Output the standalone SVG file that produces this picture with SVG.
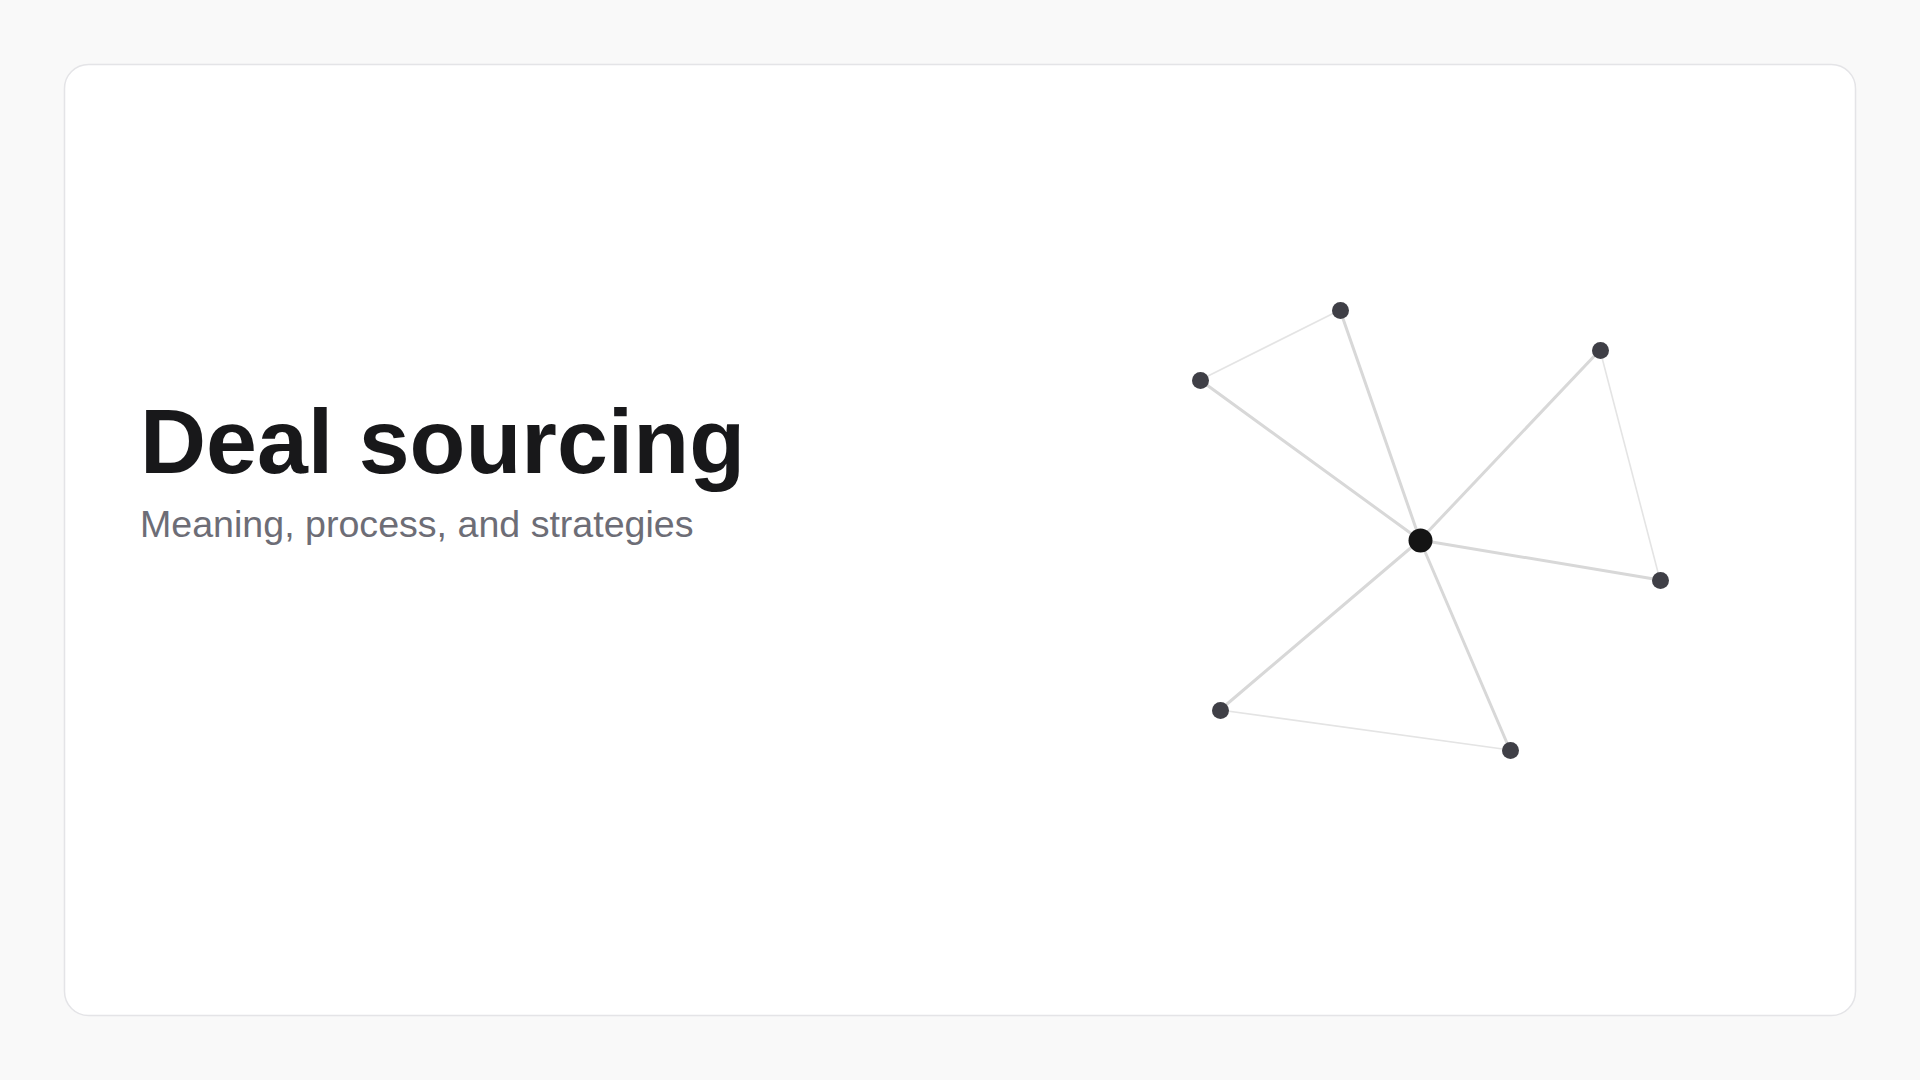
<svg xmlns="http://www.w3.org/2000/svg" width="1920" height="1080" viewBox="0 0 1920 1080">
<style>
.title{font-family:"Liberation Sans",Arial,sans-serif;font-weight:700;font-size:91.5px;fill:#18181a}
.sub{font-family:"Liberation Sans",Arial,sans-serif;font-size:37.6px;fill:#6d6d76}
.spoke{stroke:#d8d8d8;stroke-width:3;stroke-linecap:round}
.rim{stroke:#e4e4e4;stroke-width:1.6;stroke-linecap:round}
.leaf{fill:#3f3f46}
.hub{fill:#141414}
</style>
<rect x="0" y="0" width="1920" height="1080" fill="#f9f9f9"/>
<rect id="card" x="64.5" y="64.5" width="1791" height="951" rx="24" fill="#ffffff" stroke="#e4e4e7" stroke-width="1.5"/>
<g id="heading">
<text class="title" x="140" y="473">Deal sourcing</text>
<text class="sub" x="140" y="537">Meaning, process, and strategies</text>
</g>
<g id="connectors">
<line class="rim" x1="1340" y1="310" x2="1200" y2="380"/>
<line class="rim" x1="1600" y1="350" x2="1660" y2="580"/>
<line class="rim" x1="1220" y1="710" x2="1510" y2="750"/>
<line class="spoke" x1="1420" y1="540" x2="1340" y2="310"/>
<line class="spoke" x1="1420" y1="540" x2="1200" y2="380"/>
<line class="spoke" x1="1420" y1="540" x2="1600" y2="350"/>
<line class="spoke" x1="1420" y1="540" x2="1660" y2="580"/>
<line class="spoke" x1="1420" y1="540" x2="1220" y2="710"/>
<line class="spoke" x1="1420" y1="540" x2="1510" y2="750"/>
</g>
<g id="node-hub"><circle class="hub" cx="1420.5" cy="540.5" r="12"/></g>
<g id="node-1"><circle class="leaf" cx="1340.5" cy="310.5" r="8.5"/></g>
<g id="node-2"><circle class="leaf" cx="1200.5" cy="380.5" r="8.5"/></g>
<g id="node-3"><circle class="leaf" cx="1600.5" cy="350.5" r="8.5"/></g>
<g id="node-4"><circle class="leaf" cx="1660.5" cy="580.5" r="8.5"/></g>
<g id="node-5"><circle class="leaf" cx="1220.5" cy="710.5" r="8.5"/></g>
<g id="node-6"><circle class="leaf" cx="1510.5" cy="750.5" r="8.5"/></g>
</svg>
